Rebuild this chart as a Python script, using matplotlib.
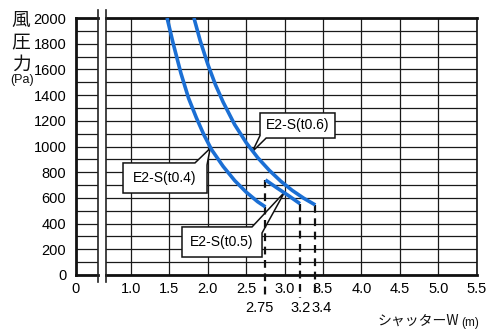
import matplotlib
matplotlib.use("Agg")
import matplotlib.pyplot as plt
from matplotlib.patches import Polygon
from matplotlib.lines import Line2D

# ---- data -------------------------------------------------------------
t04_w = [1.47, 1.55, 1.65, 1.75, 1.85, 1.95, 2.05, 2.20, 2.35, 2.50, 2.65, 2.75]
t04_p = [2000, 1800, 1570, 1375, 1225, 1090, 975, 845, 735, 645, 570, 530]
t05_w = [2.75, 2.90, 3.05, 3.20]
t05_p = [740, 678, 618, 555]
t06_w = [1.82, 1.90, 2.00, 2.10, 2.20, 2.35, 2.50, 2.65, 2.80, 2.95, 3.10, 3.25, 3.40]
t06_p = [2000, 1825, 1640, 1480, 1345, 1170, 1030, 913, 815, 730, 658, 597, 545]

series_names = ["E2-S(t0.4)", "E2-S(t0.5)", "E2-S(t0.6)"]
limit_widths = [2.75, 3.2, 3.4]
limit_labels = ["2.75", "3.2", "3.4"]
x_ticks = [1.0, 1.5, 2.0, 2.5, 3.0, 3.5, 4.0, 4.5, 5.0, 5.5]
y_ticks = list(range(0, 2001, 200))

# ---- figure -----------------------------------------------------------
W, H = 492, 332
fig = plt.figure(figsize=(W / 100, H / 100), dpi=100)
fig.patch.set_facecolor("white")

def fx(px):
    return px / W

def fy(py):
    return 1 - py / H

px_per_unit = 76.8
x1_px = 131.0
xr_left = 1.0 - (x1_px - 106) / px_per_unit
xr_right_px = x1_px + (5.5 - 1.0) * px_per_unit

axL = fig.add_axes([fx(76), fy(275), fx(98) - fx(76), fy(18) - fy(275)])
axR = fig.add_axes([fx(106), fy(275), fx(xr_right_px) - fx(106), fy(18) - fy(275)])

tick_font = dict(family="Liberation Sans", size=10.5)
grid_kw = dict(color="#1a1a1a", linewidth=0.9)

for ax in (axL, axR):
    ax.set_ylim(0, 2000)
    ax.set_yticks(y_ticks)
    ax.set_yticks(range(0, 2001, 100), minor=True)
    ax.grid(which="both", axis="y", **grid_kw)
    ax.tick_params(which="both", length=0)
    ax.set_axisbelow(True)
    for s in ("top", "bottom"):
        ax.spines[s].set_linewidth(2.0)
        ax.spines[s].set_color("#111111")

# left (broken) part
axL.set_xlim(0, (98 - 76) / px_per_unit)
axL.set_xticks([0])
axL.set_xticklabels(["0"], fontdict=tick_font)
axL.set_yticklabels([str(v) for v in y_ticks], fontdict=tick_font)
axL.tick_params(axis="y", pad=7)
axL.tick_params(axis="x", pad=5)
axL.spines["right"].set_visible(False)
axL.spines["left"].set_linewidth(2.0)
axL.spines["left"].set_color("#111111")

# main part
axR.set_xlim(xr_left, 5.5)
axR.set_xticks(x_ticks)
axR.set_xticklabels([f"{v:.1f}" for v in x_ticks], fontdict=tick_font)
axR.set_yticklabels([])
axR.grid(which="major", axis="x", **grid_kw)
axR.tick_params(axis="x", pad=5)
axR.spines["left"].set_visible(False)
axR.spines["right"].set_linewidth(1.2)
axR.spines["right"].set_color("#111111")

# axis break lines
for px in (98, 106):
    fig.add_artist(Line2D([fx(px), fx(px)], [fy(282), fy(10)],
                          transform=fig.transFigure, color="#222222", lw=1.2))

# ---- curves -----------------------------------------------------------
blue = "#1b6fd4"
for w, p in ((t04_w, t04_p), (t05_w, t05_p), (t06_w, t06_p)):
    axR.plot(w, p, color=blue, lw=2.6, solid_capstyle="butt",
             solid_joinstyle="round", zorder=5)

# limit width markers
y_bottom = -(298 - 275) / 0.1285
limit_tops = [t05_p[0], t05_p[-1], t06_p[-1]]
for xw, top in zip(limit_widths, limit_tops):
    axR.plot([xw, xw], [top, y_bottom], color="#111111", lw=1.6,
             linestyle=(0, (3.5, 2.5)), clip_on=False, zorder=4)

label_y = -(308 - 275) / 0.1285
label_dx = [-0.08, 0.01, 0.08]
for xw, lab, dx in zip(limit_widths, limit_labels, label_dx):
    axR.text(xw + dx, label_y, lab, ha="center", va="center",
             fontdict=tick_font, clip_on=False)

# ---- callout labels ---------------------------------------------------
def callout(poly, text_xy, text):
    axR.add_patch(Polygon(poly, closed=True, facecolor="white",
                          edgecolor="#111111", lw=1.1, zorder=3,
                          clip_on=False, joinstyle="miter"))
    axR.text(*text_xy, text, ha="center", va="center", zorder=6,
             family="Liberation Sans", size=10)

callout([(0.896, 638), (1.99, 638), (1.99, 856), (2.03, 985),
         (1.833, 872), (0.896, 872)], (1.44, 752), series_names[0])
callout([(1.664, 140), (2.706, 140), (2.706, 327), (3.0, 645),
         (2.576, 374), (1.664, 374)], (2.185, 255), series_names[1])
callout([(2.68, 1261), (3.656, 1261), (3.656, 1066), (2.76, 1066),
         (2.58, 960), (2.68, 1085)], (3.17, 1165), series_names[2])

# ---- axis titles ------------------------------------------------------
cjk = ["Noto Sans CJK JP", "DejaVu Sans"]
for ch, py in zip("風圧力", (20, 43, 64)):
    fig.text(fx(21), fy(py), ch, ha="center", va="center",
             family=cjk, size=13.5, color="#111111")
fig.text(fx(22), fy(80), "(Pa)", ha="center", va="center",
         family="Liberation Sans", size=9, color="#111111")

fig.text(fx(459), fy(321), "シャッターW", ha="right", va="center",
         family=cjk, size=10, color="#111111")
fig.text(fx(461), fy(323), "(m)", ha="left", va="center",
         family="Liberation Sans", size=8.5, color="#111111")

fig.savefig("out.png", dpi=100, facecolor="white")
